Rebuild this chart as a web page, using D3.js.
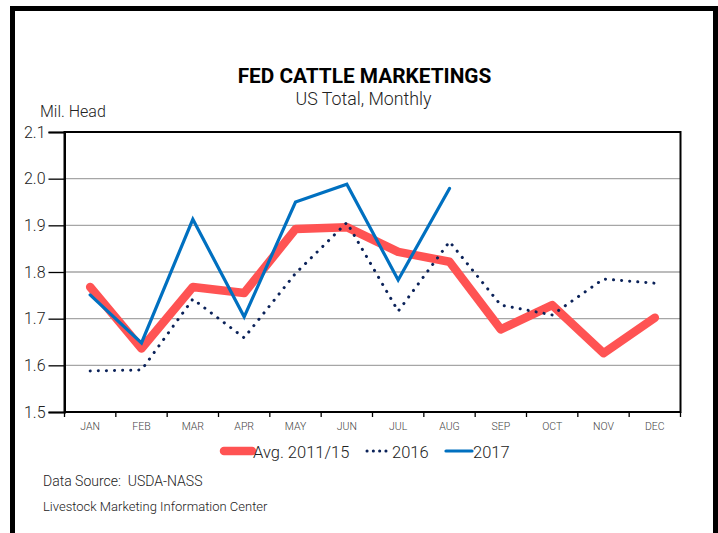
<!DOCTYPE html>
<html>
<head>
<meta charset="utf-8">
<script src="https://cdn.jsdelivr.net/npm/d3@7"></script>
<style>
  html, body { margin: 0; padding: 0; background: #fff; }
  svg { display: block; }
</style>
</head>
<body>
<svg id="chart" width="718" height="533"></svg>
<script>
const months = ["JAN","FEB","MAR","APR","MAY","JUN","JUL","AUG","SEP","OCT","NOV","DEC"];
const avg1115 = [1.768, 1.636, 1.768, 1.755, 1.892, 1.896, 1.843, 1.822, 1.677, 1.729, 1.626, 1.702];
const y2016 = [1.588, 1.590, 1.742, 1.659, 1.797, 1.906, 1.716, 1.865, 1.729, 1.708, 1.785, 1.776];
const y2017 = [1.751, 1.648, 1.913, 1.704, 1.950, 1.988, 1.783, 1.979];
const yTicks = [1.5, 1.6, 1.7, 1.8, 1.9, 2.0, 2.1];
const seriesNames = ["Avg. 2011/15", "2016", "2017"];

const svg = d3.select("#chart");
const font = 'Roboto, "Liberation Sans", sans-serif';

// outer frame
svg.append("rect").attr("x", 12.5).attr("y", 8.5).attr("width", 703).attr("height", 540)
  .attr("fill", "none").attr("stroke", "#000").attr("stroke-width", 5);

const L = 64.5, R = 680.5, T = 132, B = 412;
const x = d3.scaleBand().domain(months).range([L, R]);
const y = d3.scaleLinear().domain([1.5, 2.1]).range([B, T]);

// gridlines
svg.append("g").selectAll("line").data(yTicks.slice(1, -1)).join("line")
  .attr("x1", L).attr("x2", R).attr("y1", d => y(d)).attr("y2", d => y(d))
  .attr("stroke", "#a6a6a6").attr("stroke-width", 1.3);

// plot border
svg.append("rect").attr("x", L).attr("y", T).attr("width", R - L).attr("height", B - T)
  .attr("fill", "none").attr("stroke", "#000").attr("stroke-width", 2);

// y axis
const yAxis = svg.append("g").attr("transform", `translate(${L},0)`)
  .call(d3.axisLeft(y).tickValues(yTicks).tickFormat(d3.format(".1f")).tickSize(16).tickPadding(3));
yAxis.select(".domain").attr("stroke", "#000").attr("stroke-width", 2);
yAxis.selectAll(".tick line").attr("stroke", "#000").attr("stroke-width", 1.3);
yAxis.selectAll("text").attr("font-family", font).attr("font-weight", 300).attr("font-size", 16).attr("fill", "#222");

// x axis with ticks at band boundaries
const xAxis = svg.append("g").attr("transform", `translate(0,${B})`)
  .call(d3.axisBottom(x).tickSize(0).tickPadding(11));
xAxis.select(".domain").remove();
xAxis.selectAll("text").attr("font-family", font).attr("font-weight", 300).attr("font-size", 10.5).attr("fill", "#444");
svg.append("g").selectAll("line").data(d3.range(months.length + 1)).join("line")
  .attr("x1", i => L + i * x.step()).attr("x2", i => L + i * x.step())
  .attr("y1", B).attr("y2", B + 5).attr("stroke", "#000").attr("stroke-width", 1.3);

// lines
const line = d3.line().x((d, i) => x(months[i]) + x.bandwidth() / 2).y(d => y(d));
svg.append("path").datum(avg1115).attr("d", line).attr("fill", "none")
  .attr("stroke", "#ff5353").attr("stroke-width", 8.5).attr("stroke-linejoin", "round").attr("stroke-linecap", "round");
svg.append("path").datum(y2016).attr("d", line).attr("fill", "none")
  .attr("stroke", "#0b2259").attr("stroke-width", 3).attr("stroke-dasharray", "0.1 8").attr("stroke-linecap", "round");
svg.append("path").datum(y2017).attr("d", line).attr("fill", "none")
  .attr("stroke", "#0070c0").attr("stroke-width", 3.2).attr("stroke-linejoin", "miter").attr("stroke-linecap", "round");

// titles
svg.append("text").attr("x", 364.5).attr("y", 83).attr("text-anchor", "middle")
  .attr("font-family", font).attr("font-weight", "bold").attr("font-size", 20.8).attr("fill", "#000")
  .text("FED CATTLE MARKETINGS");
svg.append("text").attr("x", 363.5).attr("y", 105).attr("text-anchor", "middle")
  .attr("font-family", font).attr("font-weight", 300).attr("font-size", 17.8).attr("fill", "#222")
  .text("US Total, Monthly");
svg.append("text").attr("x", 40).attr("y", 117)
  .attr("font-family", font).attr("font-weight", 300).attr("font-size", 16).attr("fill", "#222")
  .text("Mil. Head");

// legend
const lg = svg.append("g");
const legendItems = [
  {name: seriesNames[0], x1: 224, x2: 252, color: "#ff5353", w: 8.5, dash: null, tx: 253},
  {name: seriesNames[1], x1: 367, x2: 391, color: "#0b2259", w: 3, dash: "0.1 6.2", tx: 392},
  {name: seriesNames[2], x1: 446, x2: 472, color: "#0070c0", w: 3.2, dash: null, tx: 473}
];
legendItems.forEach(it => {
  lg.append("line").attr("x1", it.x1).attr("x2", it.x2).attr("y1", 451).attr("y2", 451)
    .attr("stroke", it.color).attr("stroke-width", it.w).attr("stroke-linecap", "round")
    .attr("stroke-dasharray", it.dash);
  lg.append("text").attr("x", it.tx).attr("y", 457.5).attr("font-family", font).attr("font-weight", 300)
    .attr("font-size", 16.5).attr("fill", "#222").text(it.name);
});

svg.append("text").attr("x", 43).attr("y", 486).attr("font-family", font).attr("font-weight", 300)
  .attr("font-size", 14).attr("fill", "#222").style("white-space", "pre").text("Data Source:  USDA-NASS");
svg.append("text").attr("x", 43).attr("y", 510.5).attr("font-family", font).attr("font-weight", 300)
  .attr("font-size", 13).attr("fill", "#222").text("Livestock Marketing Information Center");
</script>
</body>
</html>
